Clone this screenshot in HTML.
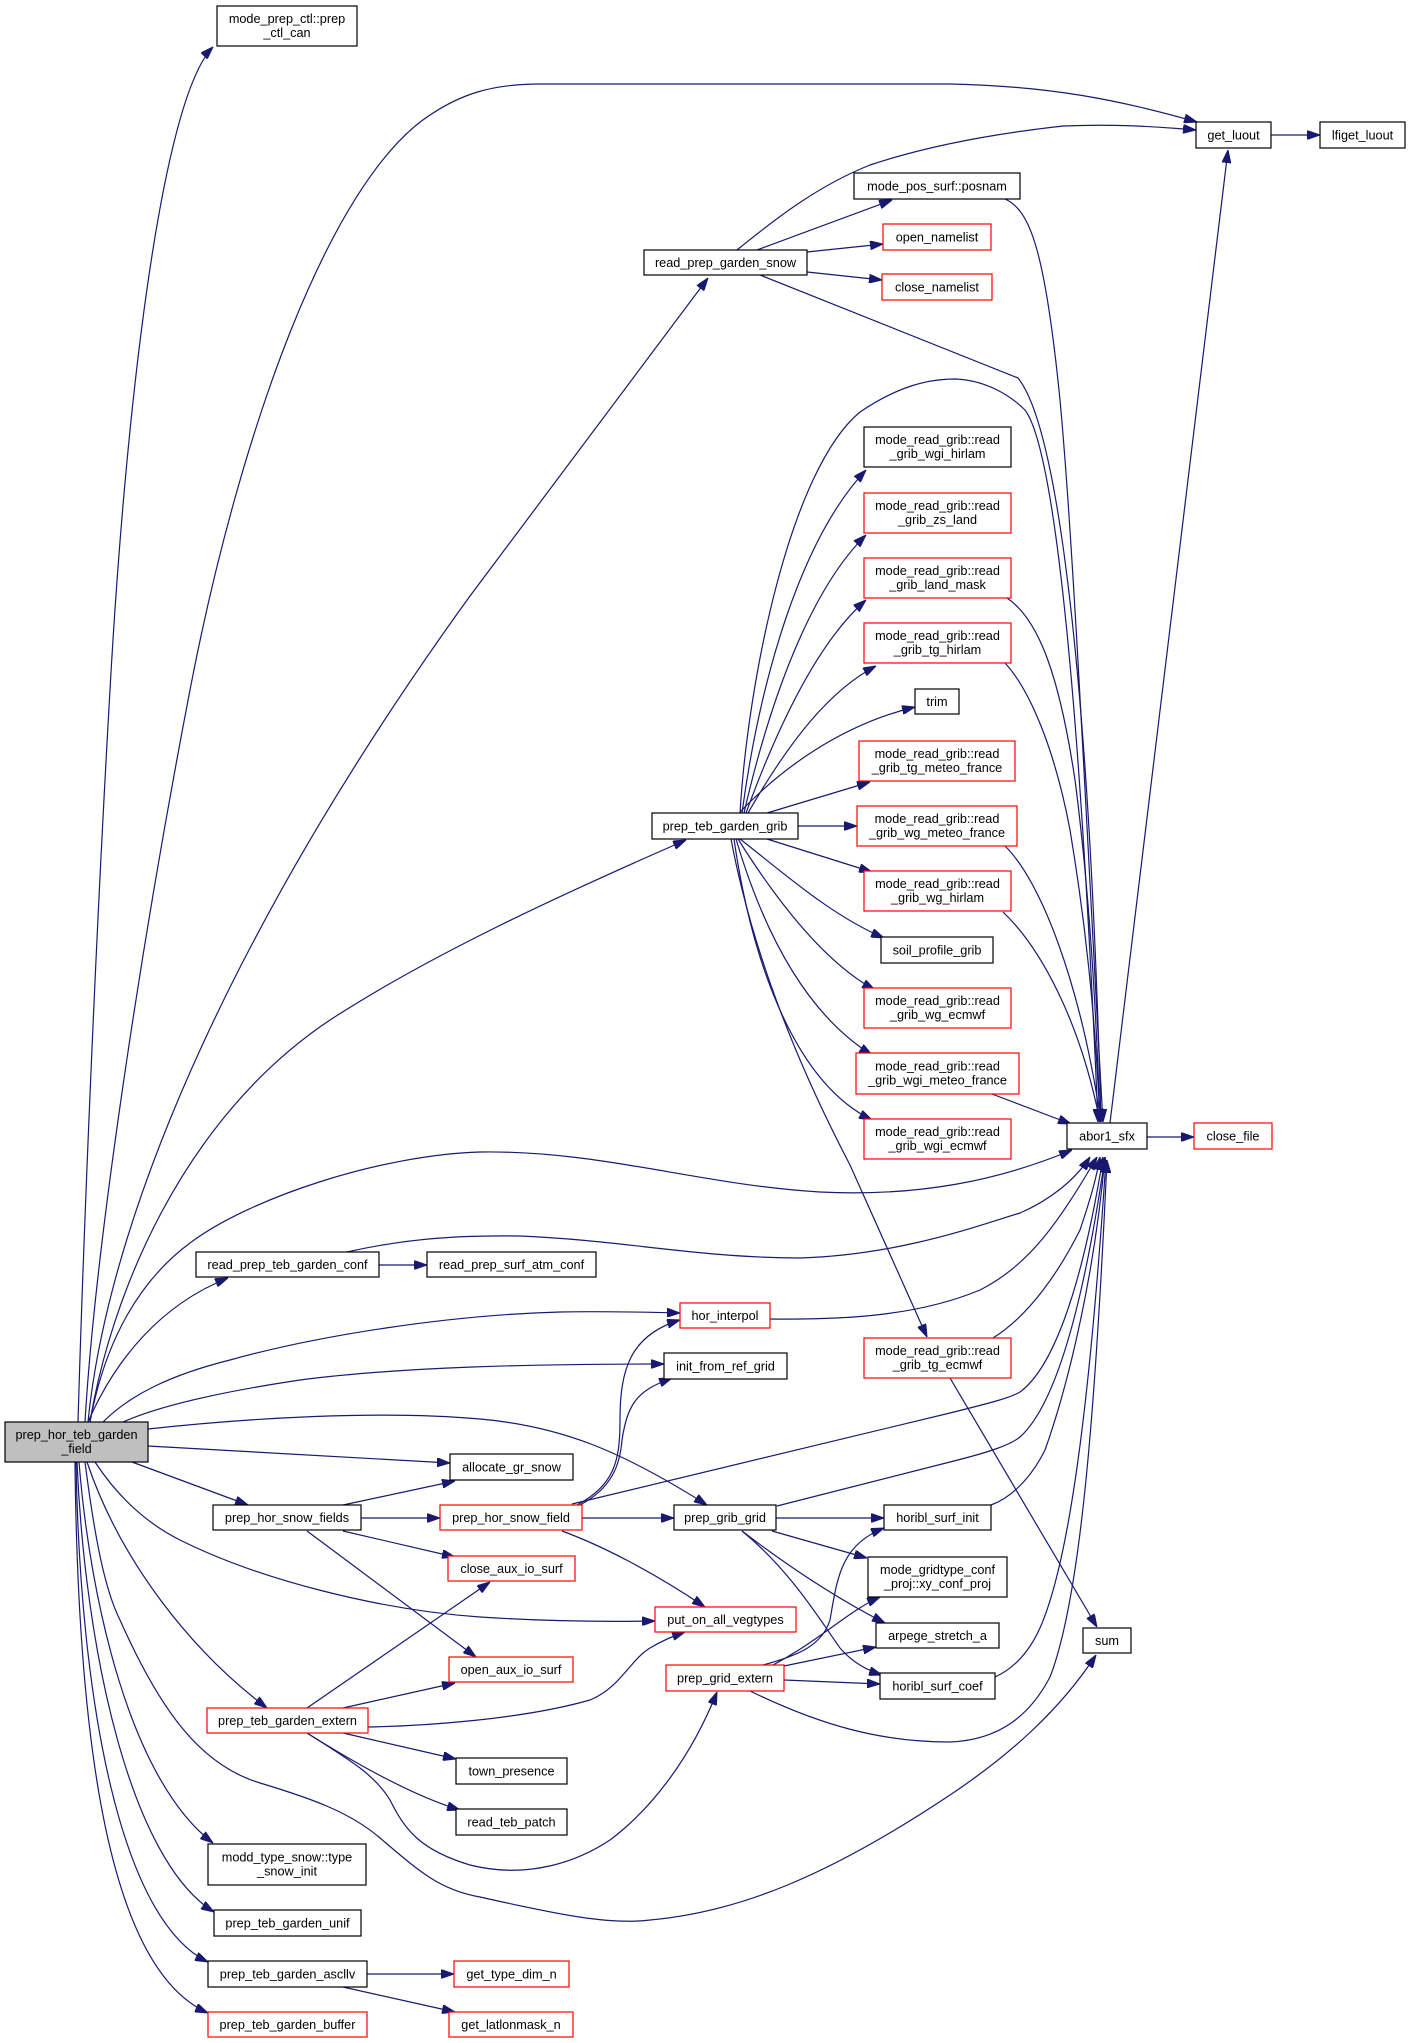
<!DOCTYPE html>
<html><head><meta charset="utf-8"><style>
html,body{margin:0;padding:0;background:#fff;}
svg{display:block;}
text{font-family:"Liberation Sans",Arial,sans-serif;font-size:12.7px;fill:#000;text-anchor:middle;}
.e{fill:none;stroke:#191970;stroke-width:1.2;marker-end:url(#a);}
.b{fill:#fff;stroke:#000;stroke-width:1.2;}
.r{fill:#fff;stroke:#ff0000;stroke-width:1.2;}
</style></head><body>
<svg width="1411" height="2043" viewBox="0 0 1411 2043" xmlns="http://www.w3.org/2000/svg">
<defs><marker id="a" viewBox="0 0 13 9" markerWidth="13" markerHeight="9" refX="13" refY="4.5" markerUnits="userSpaceOnUse" orient="auto"><path d="M0,0 L13,4.5 L0,9 z" fill="#191970" stroke="#191970"/></marker></defs>

<!-- edges -->
<path class="e" d="M78,1422 C83,1250 95,950 110,690 C125,420 160,100 213,47"/>
<path class="e" d="M85,1422 C95,1250 140,950 190,690 C240,430 330,180 430,115 C460,95 490,84 540,84 L950,84 C1050,86 1120,100 1197,122"/>
<path class="e" d="M88,1422 C110,1200 250,900 470,596 L708,278"/>
<path class="e" d="M90,1422 C110,1300 180,1120 330,1020 C430,955 560,895 686,840"/>
<path class="e" d="M90,1422 C105,1340 140,1280 190,1243 C250,1198 380,1155 480,1152 C600,1150 700,1185 820,1192 C920,1197 1000,1180 1072,1150"/>
<path class="e" d="M88,1422 C115,1360 160,1305 228,1278"/>
<path class="e" d="M103,1422 C130,1395 170,1375 230,1360 C320,1335 450,1315 560,1312 C600,1311 640,1312 680,1313"/>
<path class="e" d="M123,1422 C150,1410 200,1395 300,1380 C400,1367 530,1364 664,1364"/>
<path class="e" d="M148,1429 C250,1418 380,1410 480,1419 C560,1426 620,1450 707,1505"/>
<path class="e" d="M148,1446 L450,1463"/>
<path class="e" d="M132,1462 L248,1505"/>
<path class="e" d="M95,1462 C120,1500 150,1525 180,1540 C260,1580 380,1610 480,1617 C540,1621 600,1622 655,1621"/>
<path class="e" d="M87,1462 C120,1560 190,1650 267,1708"/>
<path class="e" d="M85,1462 C95,1540 105,1590 120,1620 C160,1710 200,1765 260,1783 C310,1798 350,1812 380,1838 C420,1872 440,1890 480,1897 C560,1915 610,1925 650,1920 C740,1912 830,1875 950,1795 C1010,1755 1060,1710 1096,1655"/>
<path class="e" d="M79,1462 C90,1600 130,1780 213,1843"/>
<path class="e" d="M77,1462 C85,1650 130,1860 214,1912"/>
<path class="e" d="M76,1462 C80,1700 120,1920 208,1962"/>
<path class="e" d="M75,1462 C78,1750 110,1970 208,2013"/>

<path class="e" d="M737,250 C780,215 820,185 870,165 C930,145 1000,133 1063,126 C1110,124 1150,126 1196,130"/>
<path class="e" d="M757,250 L892,200"/>
<path class="e" d="M807,252 L883,244"/>
<path class="e" d="M807,272 L882,280"/>
<path class="e" d="M760,275 L1018,378 C1060,430 1090,700 1101,1122"/>
<path class="e" d="M1005,199 C1030,210 1045,250 1060,400 C1075,560 1090,900 1103,1122"/>
<path class="e" d="M740,813 C748,680 790,470 860,412 C900,385 930,379 955,379 C985,380 1010,395 1025,410 C1055,450 1080,700 1098,1122"/>
<path class="e" d="M742,813 C760,680 800,540 866,470"/>
<path class="e" d="M744,813 C770,700 810,590 866,535"/>
<path class="e" d="M746,813 C780,720 820,640 866,600"/>
<path class="e" d="M748,813 C790,740 830,690 876,666"/>
<path class="e" d="M740,812 C780,770 840,725 915,707"/>
<path class="e" d="M767,813 L870,782"/>
<path class="e" d="M798,826 L857,826"/>
<path class="e" d="M767,839 L872,872"/>
<path class="e" d="M740,839 C780,870 830,915 884,938"/>
<path class="e" d="M738,839 C770,890 820,960 875,990"/>
<path class="e" d="M736,839 C760,920 800,1010 872,1055"/>
<path class="e" d="M734,839 C750,950 790,1080 872,1120"/>
<path class="e" d="M731,839 C750,940 790,1050 850,1165 L927,1337"/>
<path class="e" d="M1007,598 C1040,620 1060,680 1075,780 C1088,880 1096,1000 1100,1122"/>
<path class="e" d="M1005,663 C1030,690 1055,750 1070,830 C1085,920 1095,1010 1100,1122"/>
<path class="e" d="M1005,846 C1040,880 1080,980 1101,1122"/>
<path class="e" d="M1003,912 C1040,947 1080,1020 1100,1122"/>
<path class="e" d="M992,1094 L1071,1124"/>
<path class="e" d="M1110,1123 L1228,150"/>
<path class="e" d="M1147,1137 L1194,1137"/>
<path class="e" d="M1271,135 L1320,135"/>

<path class="e" d="M379,1265 L427,1265"/>
<path class="e" d="M347,1252 C400,1240 450,1235 520,1236 C620,1240 700,1258 800,1258 C900,1255 980,1225 1020,1213 C1050,1200 1075,1180 1090,1157"/>
<path class="e" d="M770,1319 C850,1320 920,1315 980,1290 C1030,1265 1060,1220 1097,1157"/>
<path class="e" d="M993,1338 C1030,1315 1060,1270 1080,1230 C1090,1200 1096,1180 1100,1157"/>
<path class="e" d="M950,1378 L1097,1627"/>
<path class="e" d="M572,1504 L950,1413 C990,1403 1010,1398 1020,1392 C1050,1370 1080,1300 1103,1157"/>
<path class="e" d="M777,1506 L950,1462 C990,1452 1010,1445 1020,1437 C1050,1410 1080,1330 1105,1157"/>
<path class="e" d="M991,1505 C1010,1498 1030,1480 1045,1450 C1070,1380 1095,1270 1105,1157"/>
<path class="e" d="M995,1677 C1015,1668 1030,1650 1040,1628 C1070,1560 1090,1400 1106,1160"/>
<path class="e" d="M750,1691 C820,1725 880,1742 950,1742 C1000,1740 1030,1715 1050,1677 C1080,1600 1095,1420 1107,1160"/>

<path class="e" d="M343,1505 L455,1481"/>
<path class="e" d="M361,1518 L440,1518"/>
<path class="e" d="M343,1531 L455,1557"/>
<path class="e" d="M307,1531 L476,1657"/>
<path class="e" d="M577,1505 C615,1485 620,1460 620,1420 C620,1370 630,1335 680,1320"/>
<path class="e" d="M580,1505 C612,1488 620,1465 622,1440 C628,1400 640,1390 672,1378"/>
<path class="e" d="M582,1518 L674,1518"/>
<path class="e" d="M562,1531 C600,1545 650,1570 705,1607"/>
<path class="e" d="M776,1518 L884,1518"/>
<path class="e" d="M772,1531 L867,1558"/>
<path class="e" d="M742,1531 C780,1560 830,1595 885,1623"/>
<path class="e" d="M742,1531 C790,1570 820,1620 840,1648 C852,1662 866,1670 882,1675"/>
<path class="e" d="M763,1665 C800,1655 822,1645 830,1620 C837,1580 840,1545 884,1528"/>
<path class="e" d="M773,1665 C820,1640 850,1610 880,1597"/>
<path class="e" d="M784,1666 L876,1647"/>
<path class="e" d="M784,1680 L880,1684"/>
<path class="e" d="M307,1708 L490,1582"/>
<path class="e" d="M343,1708 L455,1683"/>
<path class="e" d="M368,1727 C420,1726 520,1720 590,1700 C620,1688 630,1660 650,1648 C660,1642 670,1637 685,1632"/>
<path class="e" d="M343,1733 L456,1759"/>
<path class="e" d="M307,1733 C350,1760 410,1795 460,1810"/>
<path class="e" d="M307,1733 C350,1760 375,1775 390,1800 C405,1830 420,1850 470,1865 C530,1880 580,1860 610,1840 C650,1810 690,1760 717,1692"/>
<path class="e" d="M367,1974 L454,1974"/>
<path class="e" d="M343,1987 L455,2012"/>

<!-- nodes -->
<rect x="5" y="1422" width="143" height="40" fill="#bfbfbf" stroke="#000" stroke-width="1.2"/>
<text x="76.5" y="1439">prep_hor_teb_garden</text><text x="76.5" y="1453">_field</text>

<rect class="b" x="217" y="6" width="140" height="40"/><text x="287" y="23">mode_prep_ctl::prep</text><text x="287" y="37">_ctl_can</text>
<rect class="b" x="1196" y="122" width="75" height="26"/><text x="1233.5" y="139.5">get_luout</text>
<rect class="b" x="1320" y="122" width="85" height="26"/><text x="1362.5" y="139.5">lfiget_luout</text>
<rect class="b" x="644" y="250" width="163" height="25"/><text x="725.5" y="267">read_prep_garden_snow</text>
<rect class="b" x="854" y="173" width="166" height="26"/><text x="937" y="190.5">mode_pos_surf::posnam</text>
<rect class="r" x="883" y="224" width="108" height="26"/><text x="937" y="241.5">open_namelist</text>
<rect class="r" x="882" y="274" width="110" height="26"/><text x="937" y="291.5">close_namelist</text>

<rect class="b" x="864" y="427" width="147" height="40"/><text x="937.5" y="444">mode_read_grib::read</text><text x="937.5" y="458">_grib_wgi_hirlam</text>
<rect class="r" x="864" y="493" width="147" height="40"/><text x="937.5" y="510">mode_read_grib::read</text><text x="937.5" y="524">_grib_zs_land</text>
<rect class="r" x="864" y="558" width="147" height="40"/><text x="937.5" y="575">mode_read_grib::read</text><text x="937.5" y="589">_grib_land_mask</text>
<rect class="r" x="864" y="623" width="147" height="40"/><text x="937.5" y="640">mode_read_grib::read</text><text x="937.5" y="654">_grib_tg_hirlam</text>
<rect class="b" x="915" y="689" width="44" height="25"/><text x="937" y="706">trim</text>
<rect class="r" x="859" y="741" width="156" height="40"/><text x="937" y="758">mode_read_grib::read</text><text x="937" y="772">_grib_tg_meteo_france</text>
<rect class="b" x="652" y="813" width="146" height="26"/><text x="725" y="830.5">prep_teb_garden_grib</text>
<rect class="r" x="857" y="806" width="160" height="40"/><text x="937" y="823">mode_read_grib::read</text><text x="937" y="837">_grib_wg_meteo_france</text>
<rect class="r" x="864" y="871" width="147" height="40"/><text x="937.5" y="888">mode_read_grib::read</text><text x="937.5" y="902">_grib_wg_hirlam</text>
<rect class="b" x="881" y="937" width="112" height="26"/><text x="937" y="954.5">soil_profile_grib</text>
<rect class="r" x="864" y="988" width="147" height="40"/><text x="937.5" y="1005">mode_read_grib::read</text><text x="937.5" y="1019">_grib_wg_ecmwf</text>
<rect class="r" x="856" y="1053" width="163" height="41"/><text x="937.5" y="1070.5">mode_read_grib::read</text><text x="937.5" y="1084.5">_grib_wgi_meteo_france</text>
<rect class="r" x="864" y="1119" width="147" height="40"/><text x="937.5" y="1136">mode_read_grib::read</text><text x="937.5" y="1150">_grib_wgi_ecmwf</text>
<rect class="b" x="1067" y="1123" width="80" height="26"/><text x="1107" y="1140.5">abor1_sfx</text>
<rect class="r" x="1194" y="1123" width="78" height="26"/><text x="1233" y="1140.5">close_file</text>

<rect class="b" x="196" y="1252" width="183" height="25"/><text x="287.5" y="1269">read_prep_teb_garden_conf</text>
<rect class="b" x="427" y="1252" width="169" height="25"/><text x="511.5" y="1269">read_prep_surf_atm_conf</text>
<rect class="r" x="680" y="1303" width="90" height="25"/><text x="725" y="1320">hor_interpol</text>
<rect class="b" x="664" y="1353" width="123" height="26"/><text x="725.5" y="1370.5">init_from_ref_grid</text>
<rect class="r" x="864" y="1338" width="147" height="40"/><text x="937.5" y="1355">mode_read_grib::read</text><text x="937.5" y="1369">_grib_tg_ecmwf</text>
<rect class="b" x="450" y="1454" width="123" height="26"/><text x="511.5" y="1471.5">allocate_gr_snow</text>
<rect class="b" x="213" y="1505" width="148" height="25"/><text x="287" y="1522">prep_hor_snow_fields</text>
<rect class="r" x="440" y="1505" width="142" height="25"/><text x="511" y="1522">prep_hor_snow_field</text>
<rect class="b" x="674" y="1505" width="102" height="25"/><text x="725" y="1522">prep_grib_grid</text>
<rect class="b" x="884" y="1505" width="107" height="25"/><text x="937.5" y="1522">horibl_surf_init</text>
<rect class="r" x="448" y="1556" width="127" height="25"/><text x="511.5" y="1573">close_aux_io_surf</text>
<rect class="b" x="868" y="1557" width="139" height="40"/><text x="937.5" y="1574">mode_gridtype_conf</text><text x="937.5" y="1588">_proj::xy_conf_proj</text>
<rect class="r" x="655" y="1607" width="141" height="25"/><text x="725.5" y="1624">put_on_all_vegtypes</text>
<rect class="b" x="876" y="1623" width="123" height="25"/><text x="937.5" y="1640">arpege_stretch_a</text>
<rect class="b" x="1083" y="1628" width="48" height="25"/><text x="1107" y="1645">sum</text>
<rect class="r" x="449" y="1657" width="124" height="25"/><text x="511" y="1674">open_aux_io_surf</text>
<rect class="r" x="666" y="1665" width="118" height="26"/><text x="725" y="1682.5">prep_grid_extern</text>
<rect class="b" x="880" y="1673" width="115" height="26"/><text x="937.5" y="1690.5">horibl_surf_coef</text>
<rect class="r" x="207" y="1708" width="161" height="25"/><text x="287.5" y="1725">prep_teb_garden_extern</text>
<rect class="b" x="456" y="1758" width="111" height="26"/><text x="511.5" y="1775.5">town_presence</text>
<rect class="b" x="456" y="1809" width="111" height="26"/><text x="511.5" y="1826.5">read_teb_patch</text>
<rect class="b" x="208" y="1844" width="158" height="41"/><text x="287" y="1861.5">modd_type_snow::type</text><text x="287" y="1875.5">_snow_init</text>
<rect class="b" x="214" y="1910" width="147" height="26"/><text x="287.5" y="1927.5">prep_teb_garden_unif</text>
<rect class="b" x="208" y="1961" width="159" height="26"/><text x="287.5" y="1978.5">prep_teb_garden_ascllv</text>
<rect class="r" x="208" y="2012" width="159" height="25"/><text x="287.5" y="2029">prep_teb_garden_buffer</text>
<rect class="r" x="454" y="1961" width="115" height="26"/><text x="511.5" y="1978.5">get_type_dim_n</text>
<rect class="r" x="449" y="2012" width="124" height="25"/><text x="511" y="2029">get_latlonmask_n</text>
</svg>
</body></html>
